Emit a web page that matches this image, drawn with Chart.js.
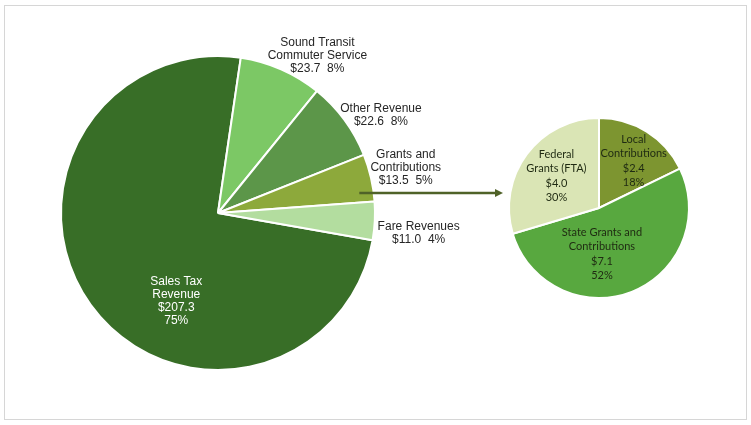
<!DOCTYPE html>
<html>
<head>
<meta charset="utf-8">
<script src="https://cdn.jsdelivr.net/npm/chart.js@4"></script>
<style>
  body { margin: 0; background: #fff; }
  #wrap { position: relative; width: 751px; height: 425px; }
  #frame { position: absolute; left: 4px; top: 5px; width: 741px; height: 413px; border: 1px solid #d6d6d6; }
  canvas { position: absolute; left: 0; top: 0; }
</style>
</head>
<body>
<div id="wrap">
  <div id="frame"></div>
  <canvas id="big" width="751" height="425"></canvas>
  <canvas id="small" width="751" height="425"></canvas>
</div>
<script>
// revenue sources ($ millions)
const bigLabels = [["Sales Tax", "Revenue"], ["Sound Transit", "Commuter Service"], ["Other Revenue"], ["Grants and", "Contributions"], ["Fare Revenues"]];
const bigValues = [207.3, 23.7, 22.6, 13.5, 11.0];
const bigPct = ["75%", "8%", "8%", "5%", "4%"];
const bigColors = ["#386e27", "#7cc865", "#5c9649", "#8da93b", "#b3dd9f"];

// breakdown of grants and contributions
const smallLabels = [["Local", "Contributions"], ["State Grants and", "Contributions"], ["Federal", "Grants (FTA)"]];
const smallValues = [2.4, 7.1, 4.0];
const smallPct = ["18%", "52%", "30%"];
const smallColors = ["#7d9530", "#58a83f", "#dae5b5"];

// where each label block sits, in units of the radius from the pie centre
const bigLabelPos = [[-0.266, 0.56], [0.633, -1.0], [1.038, -0.623], [1.196, -0.291], [1.278, 0.13]];
const smallLabelPos = [[0.385, -0.522], [0.033, 0.511], [-0.473, -0.357]];

function labelPlugin(pos, build, font, lineH) {
  return {
    id: 'labels',
    afterDraw(chart) {
      const ctx = chart.ctx;
      const arc = chart.getDatasetMeta(0).data[0];
      const cx = arc.x, cy = arc.y, r = arc.outerRadius;
      ctx.save();
      ctx.font = font;
      ctx.textAlign = 'center';
      ctx.textBaseline = 'middle';
      pos.forEach((p, i) => {
        const b = build(i);
        ctx.fillStyle = b.color;
        const top = cy + p[1] * r - (b.lines.length - 1) * lineH / 2;
        b.lines.forEach((t, j) => ctx.fillText(t, cx + p[0] * r, top + j * lineH));
      });
      ctx.restore();
    }
  };
}

const arrowPlugin = {
  id: 'arrow',
  afterDraw(chart) {
    const ctx = chart.ctx;
    const arc = chart.getDatasetMeta(0).data[0];
    const x0 = arc.x + arc.outerRadius * 0.9, y0 = arc.y - arc.outerRadius * 0.127;
    const x1 = 503;
    ctx.save();
    ctx.strokeStyle = '#4f6228';
    ctx.fillStyle = '#4f6228';
    ctx.lineWidth = 2.5;
    ctx.beginPath();
    ctx.moveTo(x0, y0);
    ctx.lineTo(x1 - 7, y0);
    ctx.stroke();
    ctx.beginPath();
    ctx.moveTo(x1, y0);
    ctx.lineTo(x1 - 8, y0 - 4);
    ctx.lineTo(x1 - 8, y0 + 4);
    ctx.closePath();
    ctx.fill();
    ctx.restore();
  }
};

new Chart(document.getElementById('big'), {
  type: 'pie',
  data: {
    labels: bigLabels.map(l => l.join(' ')),
    datasets: [{ data: bigValues, backgroundColor: bigColors, borderColor: '#fff', borderWidth: 2 }]
  },
  options: {
    responsive: false,
    animation: false,
    rotation: 100,
    layout: { padding: { left: 60, top: 55, right: 375, bottom: 54 } },
    plugins: { legend: { display: false }, tooltip: { enabled: false } }
  },
  plugins: [
    labelPlugin(bigLabelPos, i => ({
      color: i === 0 ? '#ffffff' : '#262626',
      lines: i === 0
        ? [...bigLabels[i], '$' + bigValues[i].toFixed(1), bigPct[i]]
        : [...bigLabels[i], '$' + bigValues[i].toFixed(1) + '  ' + bigPct[i]]
    }), '12px "Liberation Sans", Arial, sans-serif', 13),
    arrowPlugin
  ]
});

new Chart(document.getElementById('small'), {
  type: 'pie',
  data: {
    labels: smallLabels.map(l => l.join(' ')),
    datasets: [{ data: smallValues, backgroundColor: smallColors, borderColor: '#fff', borderWidth: 2 }]
  },
  options: {
    responsive: false,
    animation: false,
    rotation: 0,
    layout: { padding: { left: 508, top: 117, right: 61, bottom: 126 } },
    plugins: { legend: { display: false }, tooltip: { enabled: false } }
  },
  plugins: [
    labelPlugin(smallLabelPos, i => ({
      color: '#1f2a12',
      lines: [...smallLabels[i], '$' + smallValues[i].toFixed(1), smallPct[i]]
    }), '11px Lato, "Open Sans", sans-serif', 14.5)
  ]
});
</script>
</body>
</html>
